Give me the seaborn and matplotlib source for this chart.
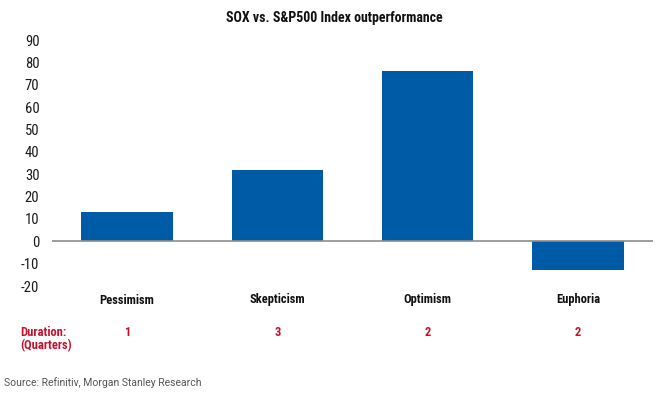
import matplotlib
matplotlib.use("Agg")
import matplotlib.pyplot as plt
import matplotlib.transforms as mtrans
import seaborn as sns
import pandas as pd

categories = ["Pessimism", "Skepticism", "Optimism", "Euphoria"]
values = [13, 32, 76, -13]
durations = ["1", "3", "2", "2"]
yticks = [-20, -10, 0, 10, 20, 30, 40, 50, 60, 70, 80, 90]

sns.set_theme(style="white")
COND = ['Roboto Condensed', 'DejaVu Sans']
plt.rcParams['font.family'] = COND
plt.rcParams['font.stretch'] = 'condensed'

df = pd.DataFrame({"phase": categories, "value": values})

fig = plt.figure(figsize=(6.6, 3.98), dpi=100)
W, H = 660, 398
ax = fig.add_axes([52 / W, 1 - 286 / H, (653 - 52) / W, (286 - 40) / H])

sns.barplot(data=df, x="phase", y="value", color="#005BA6", width=0.61,
            saturation=1, ax=ax, edgecolor="none")

ax.set_xlim(-0.5, 3.5)
ax.set_ylim(-20, 90)
ax.set_yticks(yticks)
ax.set_yticklabels([str(t) for t in yticks], fontsize=10.5, color="#1a1a1a")
ax.tick_params(axis="y", length=0, pad=9)
ax.set_xticks([])
ax.set_xlabel("")
ax.set_ylabel("")
for s in ax.spines.values():
    s.set_visible(False)
ax.axhline(0, color="#8c8c8c", lw=1.2, zorder=5)

trans = mtrans.blended_transform_factory(ax.transData, fig.transFigure)
for i, c in enumerate(categories):
    ax.text(i, 1 - 300 / H, c, transform=trans, ha="center", va="center",
            fontsize=9, fontweight="bold", color="#111111", clip_on=False)
    ax.text(i, 1 - 332 / H, durations[i], transform=trans, ha="center", va="center",
            fontsize=9, fontweight="bold", color="#C8102E", clip_on=False)

fig.text(20 / W, 1 - 332 / H, "Duration:", ha="left", va="center",
         fontsize=9, fontweight="bold", color="#C8102E")
fig.text(20 / W, 1 - 346 / H, "(Quarters)", ha="left", va="center",
         fontsize=9, fontweight="bold", color="#C8102E")

fig.text(334 / W, 1 - 18 / H, "SOX vs. S&P500 Index outperformance", ha="center",
         va="center", fontsize=10, fontweight="bold", color="#111111")
fig.text(4 / W, 1 - 383 / H, "Source: Refinitiv, Morgan Stanley Research", ha="left",
         va="center", fontsize=7.5, color="#555555", family=['Roboto', 'DejaVu Sans'],
         fontstretch='normal')

fig.savefig("out.png", dpi=100)
